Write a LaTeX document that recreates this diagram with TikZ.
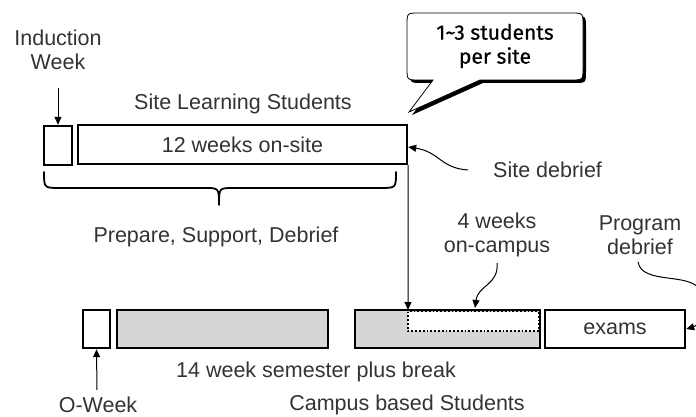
\documentclass[tikz,border=0pt]{standalone}
\usepackage{fontspec}
\setmainfont{Liberation Sans}
\newfontfamily\bubblefont{Fira Sans}[FakeBold=0.6]
\usetikzlibrary{arrows.meta,decorations.pathreplacing,calc}
\definecolor{txt}{HTML}{333333}
\definecolor{boxgray}{HTML}{D6D6D6}
\tikzset{
  bar/.style={draw=black,line width=2.4pt,inner sep=0pt,text=txt},
  lbl/.style={text=txt,font=\fontsize{21.5}{24}\selectfont,align=center,inner sep=1pt},
  pointer/.style={draw=black,line width=1pt,-{Triangle[length=8pt,width=7pt]}},
}
\begin{document}
\begin{tikzpicture}[x=1pt,y=-1pt]
\useasboundingbox (0,0) rectangle (696,417);
% top row
\node[bar,minimum width=28,minimum height=39] (ind) at (58,145.5) {};
\node[bar,minimum width=329,minimum height=39,font=\fontsize{21.5}{24}\selectfont] (onsite) at (242.5,144.5) {12 weeks on-site};
\node[lbl] (indlbl) at (58,50) {Induction\\Week};
\node[lbl] (sls) at (243,104) {Site Learning Students};
\coordinate (ia) at (58,88);
\draw[pointer] (ia) -- (ind.north);
% brace
\coordinate (bl) at (44,172);
\coordinate (br) at (396,172);
\draw[line width=1.8pt,line cap=round] (bl) .. controls (44,188) .. (60,188) -- (205,188) .. controls (219,188) .. (219,205)
  (219,205) .. controls (219,188) .. (233,188) -- (380,188) .. controls (396,188) .. (br);
\node[lbl] (psd) at (216,237) {Prepare, Support, Debrief};
% speech bubble
\coordinate (tip) at (409,112);
\def\bubblepath{(433,80) -- (409,112) -- (480,80) -- (571,80) .. controls (583,80) .. (583,68) -- (583,25) .. controls (583,13) .. (571,13) -- (419,13) .. controls (407,13) .. (407,25) -- (407,68) .. controls (407,80) .. (419,80) -- cycle}
\begin{scope}[shift={(3,3)}]
\fill[black] \bubblepath;
\end{scope}
\draw[line width=0.8pt,fill=white] \bubblepath;
\node[text=black,font=\bubblefont\fontsize{21}{24}\selectfont,align=center] (bub) at (495,46) {1\symbol{"007E}3 students\\per site};
% site debrief
\node[lbl,anchor=west] (sdeb) at (492,170) {Site debrief};
\coordinate (sd0) at (468,170);
\draw[pointer] (sd0) .. controls (440,168) and (440,152) .. (onsite.east |- 0,147);
% bottom row
\node[bar,fill=white,minimum width=27,minimum height=38] (ow) at (96.5,329) {};
\node[bar,fill=boxgray,minimum width=211,minimum height=38] (sem1) at (222.5,329) {};
\node[bar,fill=boxgray,minimum width=185,minimum height=38] (sem2) at (447.5,329) {};
\node[bar,fill=white,minimum width=140,minimum height=38,font=\fontsize{21.5}{24}\selectfont] (exams) at (615,329) {exams};
\draw[line width=1.8pt,dotted,fill=white] (408,311.5) rectangle (538.5,331);
\coordinate (dotnw) at (408,310);
\draw[pointer] (onsite.south east) -- (dotnw);
% 4 weeks
\node[lbl] (fw) at (497,235) {4 weeks\\on-campus};
\coordinate (fw0) at (497,263);
\draw[pointer] (fw0) .. controls (499,285) and (478,285) .. (475,308);
% program debrief
\node[lbl] (pd) at (640,235) {Program\\debrief};
\coordinate (pd0) at (638,262);
\draw[pointer] (pd0) .. controls (642,285) and (690,272) .. (700,290) .. controls (706,305) and (700,325) .. (exams.east);
% bottom labels
\node[lbl] (sem) at (316,372) {14 week semester plus break};
\node[lbl] (owlbl) at (98,405) {O-Week};
\coordinate (oa) at (97,390);
\draw[pointer] (oa) -- (ow.south);
\node[lbl] (cbs) at (407,405) {Campus based Students};
\end{tikzpicture}
\end{document}
